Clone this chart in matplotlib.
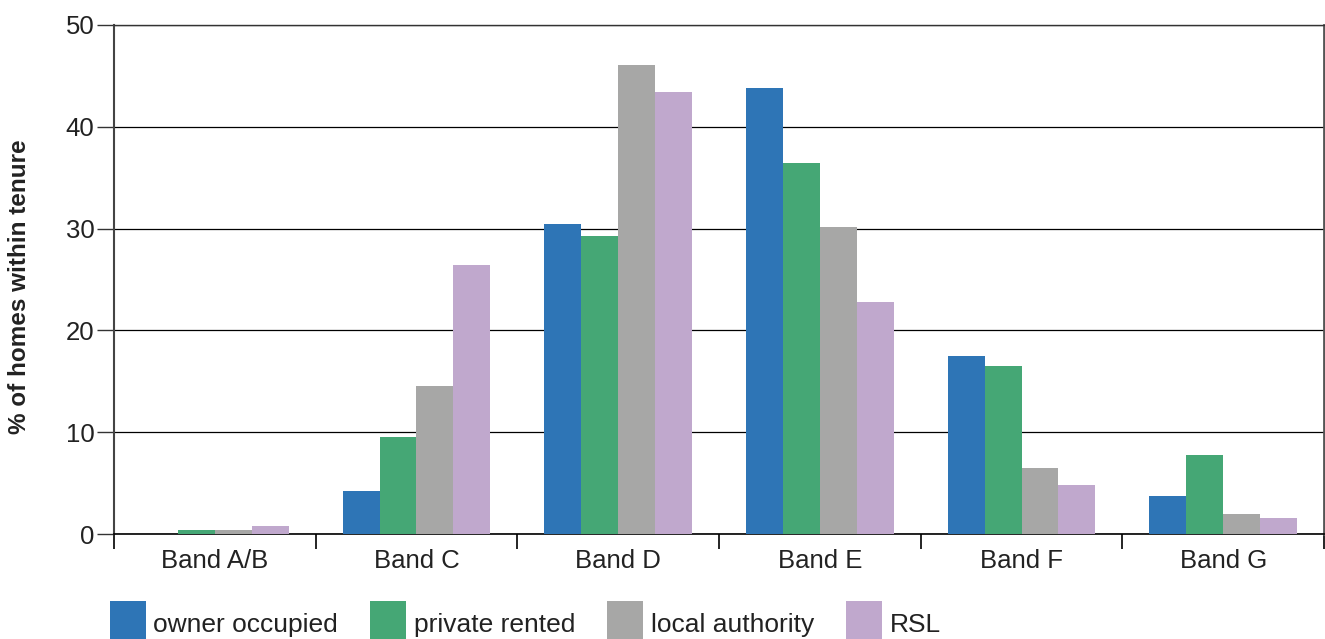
import matplotlib
matplotlib.use("Agg")
import matplotlib.pyplot as plt
import numpy as np

# Council tax band distribution by tenure
bands = ["Band A/B", "Band C", "Band D", "Band E", "Band F", "Band G"]
owner_occupied = [0.0, 4.2, 30.5, 43.8, 17.5, 3.7]
private_rented = [0.4, 9.5, 29.3, 36.4, 16.5, 7.8]
local_authority = [0.4, 14.5, 46.1, 30.2, 6.5, 2.0]
rsl = [0.8, 26.4, 43.4, 22.8, 4.8, 1.6]

series = [
    ("owner occupied", owner_occupied, "#2E75B6"),
    ("private rented", private_rented, "#45A775"),
    ("local authority", local_authority, "#A7A7A6"),
    ("RSL", rsl, "#C0A8CD"),
]

plt.rcParams["font.family"] = ["Liberation Sans", "DejaVu Sans"]

W, H = 1325, 639
fig = plt.figure(figsize=(W / 100, H / 100), dpi=100)
ax = fig.add_axes([114 / W, 1 - 534 / H, (1324 - 114) / W, (534 - 25) / H])

x = np.arange(len(bands))
bw = 0.183
offsets = (np.arange(len(series)) - 1.5) * bw
for (name, vals, col), off in zip(series, offsets):
    ax.bar(x + off, vals, width=bw, color=col, label=name, zorder=3, linewidth=0)

ax.set_xlim(-0.5, len(bands) - 0.5)
ax.set_ylim(0, 50)
ax.set_yticks(np.arange(0, 51, 10))
ax.yaxis.grid(True, color="black", linewidth=0.9, zorder=1)
ax.set_axisbelow(True)

tick_fs = 18.5
# category labels centred, ticks at the band boundaries
ax.set_xticks(x)
ax.set_xticklabels(bands, fontsize=tick_fs, color="#222222")
ax.tick_params(axis="x", length=0, pad=11)
ax.set_xticks(np.arange(-0.5, len(bands), 1.0), minor=True)
ax.tick_params(axis="x", which="minor", length=11, width=1.2, color="black")
ax.tick_params(axis="y", length=12, width=1.0, labelsize=tick_fs, pad=2,
               color="#333333", labelcolor="#222222")

ax.spines["left"].set_color("#444444")
ax.spines["left"].set_linewidth(1.5)
ax.spines["right"].set_color("#555555")
ax.spines["right"].set_linewidth(2.0)
ax.spines["top"].set_color("#333333")
ax.spines["top"].set_linewidth(1.0)
ax.spines["bottom"].set_color("black")
ax.spines["bottom"].set_linewidth(1.2)

ax.set_ylabel("% of homes within tenure", fontsize=17.5, fontweight="bold",
              color="#222222")
ax.yaxis.set_label_coords(-0.069, 0.485)

fs = 19
px = fs * 100 / 72
fig.legend(loc="upper left", bbox_to_anchor=(110 / W, 1 - 601 / H),
           ncol=4, frameon=False, fontsize=fs, borderpad=0, borderaxespad=0,
           handlelength=36 / px, handleheight=60 / px,
           handletextpad=0.28, columnspacing=1.22, labelcolor="#222222")

fig.savefig("out.png", dpi=100)
